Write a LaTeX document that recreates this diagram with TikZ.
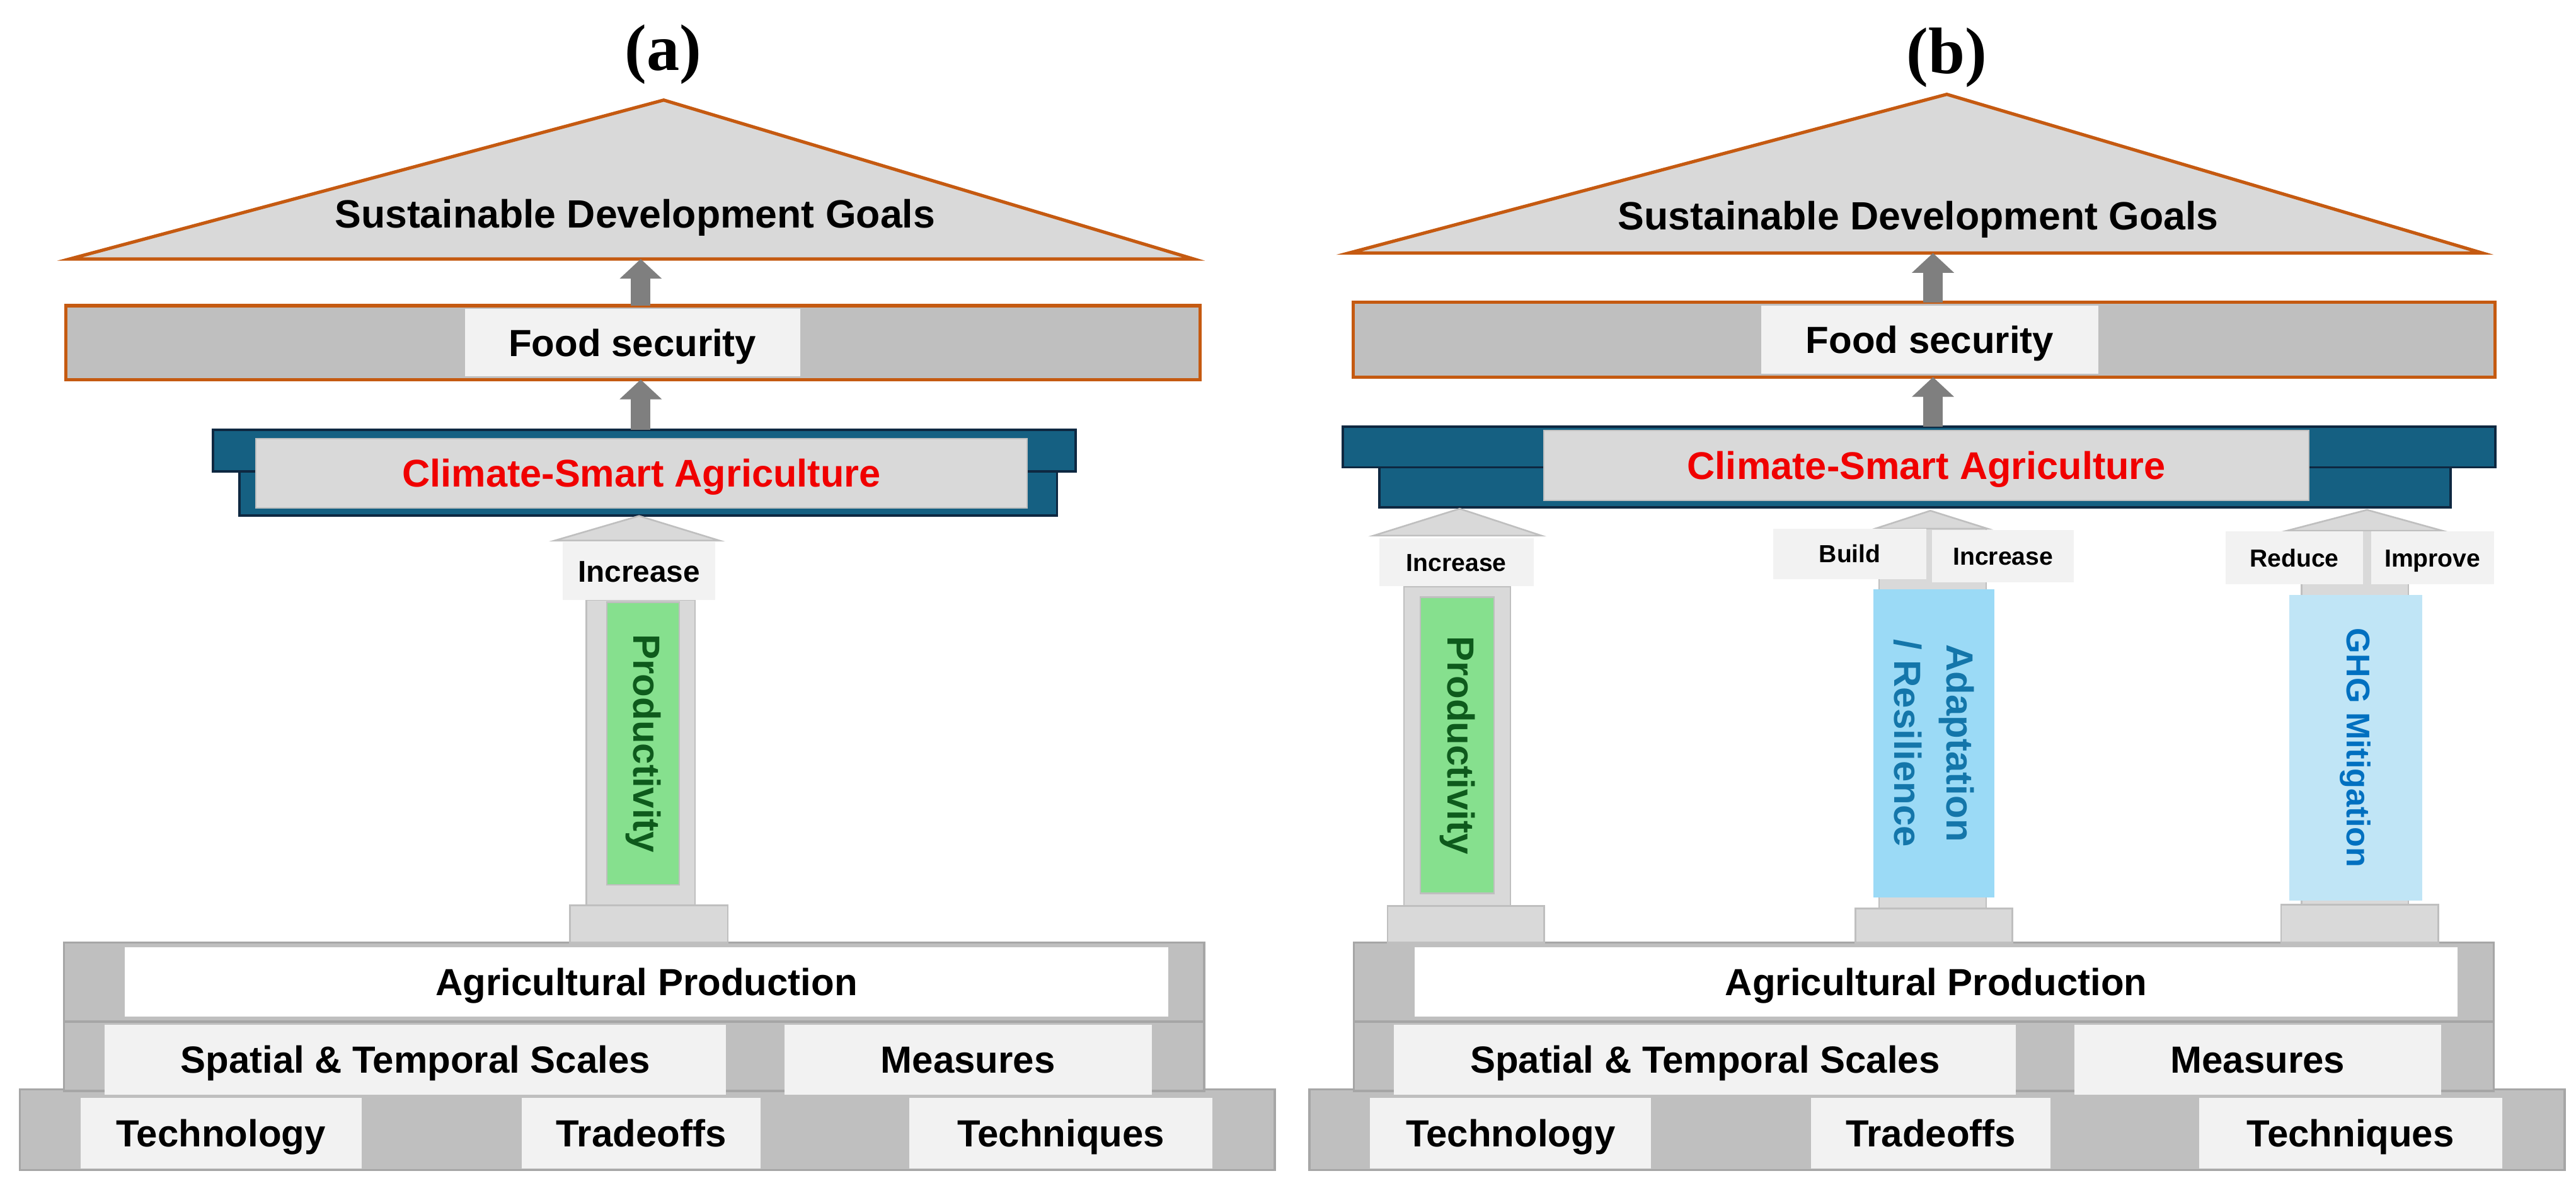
\documentclass[tikz,border=0pt]{standalone}
\usepackage{fontspec}
\setmainfont{Liberation Sans}
\newfontfamily\ttlfont{Liberation Serif}
\usetikzlibrary{arrows.meta}
\definecolor{orng}{HTML}{C55A11}
\definecolor{lgray}{HTML}{D9D9D9}
\definecolor{mgray}{HTML}{BFBFBF}
\definecolor{dgray}{HTML}{A6A6A6}
\definecolor{wgray}{HTML}{F2F2F2}
\definecolor{arrgray}{HTML}{7F7F7F}
\definecolor{csablue}{HTML}{156082}
\definecolor{csaedge}{HTML}{0E2841}
\definecolor{prodgreen}{RGB}{134,224,142}
\definecolor{prodtext}{RGB}{14,90,28}
\definecolor{adapblue}{RGB}{155,218,246}
\definecolor{adaptext}{RGB}{20,118,170}
\definecolor{ghgblue}{RGB}{192,229,246}
\definecolor{ghgtext}{RGB}{0,112,192}
\definecolor{csared}{RGB}{240,0,0}
\newcommand\mybox[7]{%
  \pgfmathsetmacro\bxcx{((#3)+(#5))/2}%
  \pgfmathsetmacro\bxcy{((#4)+(#6))/2}%
  \pgfmathsetmacro\bxw{(#5)-(#3)}%
  \pgfmathsetmacro\bxh{(#6)-(#4)}%
  \node[#2, minimum width=\bxw pt, minimum height=\bxh pt, inner sep=0pt, outer sep=0pt] (#1) at (\bxcx,\bxcy) {#7};%
}
\begin{document}
\begin{tikzpicture}[x=1pt,y=-1pt,
  lab/.style={font=\bfseries\fontsize{23}{28}\selectfont,text height=16.5pt,text depth=0pt},
  smalllab/.style={font=\bfseries\fontsize{15}{18}\selectfont,text height=10.8pt,text depth=0pt},
  band/.style={fill=mgray,draw=dgray,line width=1.3pt},
  cell/.style={fill=wgray,lab},
  whitecell/.style={fill=white,lab},
  roof/.style={fill=lgray,draw=orng,line width=2pt},
  foodbar/.style={fill=mgray,draw=orng,line width=2pt},
  foodcell/.style={fill=wgray,lab},
  csaframe/.style={fill=csablue,draw=csaedge,line width=1.5pt},
  csainner/.style={fill=lgray,draw=mgray,line width=0.8pt,font=\bfseries\fontsize{23.5}{28}\selectfont,text=csared,text height=16.9pt,text depth=0pt},
  bigarr/.style={draw=arrgray,line width=12pt,-{Triangle[width=25pt,length=12pt]}},
  gable/.style={fill=lgray,draw=mgray,line width=1pt},
  colm/.style={fill=lgray,draw=mgray,line width=1pt},
  capbox/.style={fill=wgray,smalllab},
  plinth/.style={fill=lgray,draw=mgray,line width=1pt},
  greenrect/.style={fill=prodgreen,draw=mgray,line width=1pt},
  rottext/.style={rotate=-90,font=\bfseries\fontsize{23}{32}\selectfont,align=center},
  sdg/.style={font=\bfseries\fontsize{24}{28}\selectfont,text height=17.3pt,text depth=0pt},
  ttl/.style={font=\ttlfont\bfseries\fontsize{40}{44}\selectfont}
]
\path[use as bounding box] (0,0) rectangle (1568,723);

% ---------------- titles
\node[ttl] (ttlA) at (403.7,33) {(a)};
\node[ttl] (ttlB) at (1185,35) {(b)};

% ---------------- roofs
\draw[roof] (42.5,157.6) -- (404,60.9) -- (726.5,157.6) -- cycle;
\node[sdg] (sdgA) at (386.5,130) {Sustainable Development Goals};
\coordinate (sdgAbase) at (390,157.6);
\draw[roof] (821,154) -- (1185,57.4) -- (1511,154) -- cycle;
\node[sdg] (sdgB) at (1167.6,131) {Sustainable Development Goals};
\coordinate (sdgBbase) at (1176.6,154);

\coordinate (arrA) at (390,0);
\coordinate (arrB) at (1176.6,0);

% ---------------- food security
\mybox{foodbarA}{foodbar}{40}{186}{730.5}{231}{}
\mybox{foodA}{foodcell}{283}{188}{487}{229}{Food security}
\mybox{foodbarB}{foodbar}{823.7}{184}{1518.8}{229.5}{}
\mybox{foodB}{foodcell}{1072}{186}{1277.3}{227.5}{Food security}

\draw[bigarr] (foodbarA.north -| arrA) -- (sdgAbase);
\draw[bigarr] (foodbarB.north -| arrB) -- (sdgBbase);

% ---------------- CSA
\mybox{csaAbot}{csaframe}{145.8}{287}{643.4}{313.7}{}
\mybox{csaAtop}{csaframe}{129.7}{261.5}{654.7}{287}{}
\mybox{csaA}{csainner}{155.6}{266.8}{625.3}{309}{Climate-Smart Agriculture}
\mybox{csaBbot}{csaframe}{839.6}{284.4}{1491.7}{308.9}{}
\mybox{csaBtop}{csaframe}{817.2}{259.5}{1518.8}{284.4}{}
\mybox{csaB}{csainner}{939.8}{261.9}{1405.5}{304.7}{Climate-Smart Agriculture}

\draw[bigarr] (csaAtop.north -| arrA) -- (foodbarA.south -| arrA);
\draw[bigarr] (csaBtop.north -| arrB) -- (foodbarB.south -| arrB);

% ---------------- foundations
\foreach \s/\p in {0/A,785/B}{
  \mybox{band3\p}{band}{12+\s}{663}{776+\s}{712}{}
  \mybox{band2\p}{band}{39+\s}{621.7}{733+\s}{664}{}
  \mybox{band1\p}{band}{39+\s}{573.7}{733+\s}{621.7}{}
  \mybox{agri\p}{whitecell}{76+\s}{576.5}{711+\s}{618.5}{Agricultural Production}
  \mybox{scale\p}{cell}{63.6+\s}{623.5}{442+\s}{666.3}{Spatial \& Temporal Scales}
  \mybox{meas\p}{cell}{477.5+\s}{623.5}{701+\s}{666.3}{Measures}
  \mybox{tech\p}{cell}{49+\s}{668}{220+\s}{711}{Technology}
  \mybox{trade\p}{cell}{317.5+\s}{668}{463+\s}{711}{Tradeoffs}
  \mybox{techn\p}{cell}{553.5+\s}{668}{738+\s}{711}{Techniques}
}

% ---------------- pillar (a)
\draw[gable] (337.6,329) -- (389,314) -- (438,329) -- cycle;
\mybox{colA}{colm}{357}{365}{423}{551}{}
\mybox{capA}{capbox,font=\bfseries\fontsize{18.3}{22}\selectfont,text height=13.1pt}{342.5}{330}{435.5}{365}{Increase}
\mybox{prodA}{greenrect}{369.4}{366.5}{413.5}{538.5}{}
\node[rottext,text=prodtext] (prodAtxt) at (prodA.center) {Productivity};
\mybox{plinthA}{plinth}{347}{551}{443}{573.7}{}

% ---------------- pillar (b) 1
\draw[gable] (836,326) -- (888.5,309.6) -- (938.3,326) -- cycle;
\mybox{colB1}{colm}{854.6}{356.8}{919.4}{551.3}{}
\mybox{capB1}{capbox}{839.6}{327.5}{933.4}{356.8}{Increase}
\mybox{prodB}{greenrect}{864.6}{363.4}{909.4}{543.7}{}
\node[rottext,text=prodtext] (prodBtxt) at (prodB.center) {Productivity};
\mybox{plinthB1}{plinth}{844.6}{551.3}{939.8}{573.7}{}

% ---------------- pillar (b) 2
\draw[gable] (1141.2,321.8) -- (1175,310.8) -- (1210,321.8) -- cycle;
\mybox{colB2}{colm}{1143.7}{321.8}{1209}{553}{}
\mybox{buildB}{capbox}{1079.4}{321.8}{1172.6}{352.4}{Build}
\mybox{incB}{capbox}{1176}{322.6}{1262.4}{354.4}{Increase}
\mybox{adapB}{fill=adapblue}{1140.2}{358.5}{1214}{546.1}{}
\node[rottext,text=adaptext] (adapBtxt) at (adapB.center) {Adaptation\\/ Resilience};
\mybox{plinthB2}{plinth}{1129.3}{553}{1225}{573.7}{}

% ---------------- pillar (b) 3
\draw[gable] (1392,323) -- (1440.8,310.3) -- (1486.7,323) -- cycle;
\mybox{colB3}{colm}{1401}{323}{1466}{550.5}{}
\mybox{redB}{capbox}{1354.6}{323.5}{1438.4}{355.4}{Reduce}
\mybox{impB}{capbox}{1443.3}{323.5}{1518}{355.4}{Improve}
\mybox{ghgB}{fill=ghgblue}{1393.5}{362.2}{1474.2}{548}{}
\node[rottext,text=ghgtext,font=\bfseries\fontsize{20}{24}\selectfont] (ghgBtxt) at (ghgB.center) {GHG Mitigation};
\mybox{plinthB3}{plinth}{1388.5}{550.5}{1484.2}{573.7}{}
\end{tikzpicture}
\end{document}
